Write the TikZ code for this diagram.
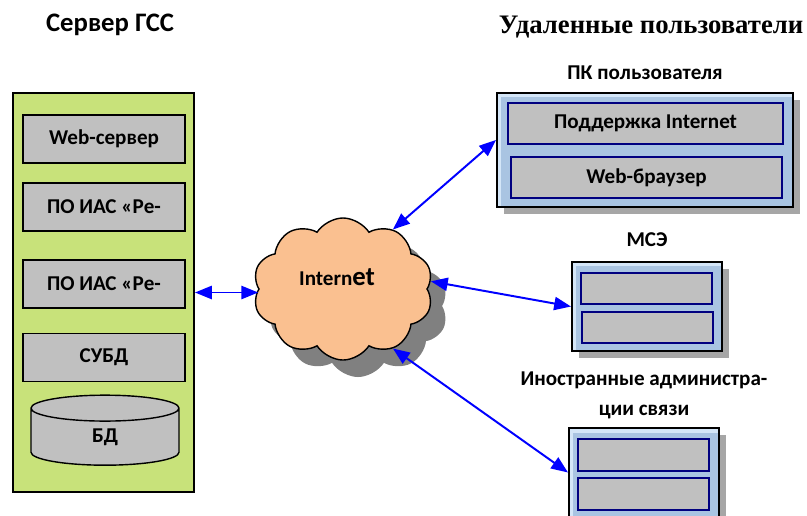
\documentclass[tikz,border=0pt]{standalone}
\usepackage{fontspec}
\setmainfont{Carlito}
\newfontfamily\timesfont{Liberation Serif}
\usetikzlibrary{arrows.meta,positioning,shapes.geometric,shapes.symbols,shadows}
\definecolor{srvgreen}{HTML}{C8E27A}
\definecolor{boxgray}{HTML}{C0C0C0}
\definecolor{pcblue}{HTML}{A9C4E2}
\definecolor{pcband}{HTML}{D4E6F8}
\definecolor{cloudorange}{HTML}{FAC090}
\definecolor{slotnavy}{HTML}{000080}

\begin{document}
\begin{tikzpicture}[x=0.025cm,y=-0.025cm,
    font=\bfseries\fontsize{15}{17}\selectfont,
    mod/.style={draw,line width=1pt,fill=boxgray,minimum width=4.05cm,minimum height=1.2cm,inner sep=0},
    host/.style={draw,line width=1.4pt,fill=pcblue,inner sep=0,
      path picture={\draw[pcband,line width=2.4pt]
        ([xshift=2pt]path picture bounding box.south west) |- ([yshift=-2pt]path picture bounding box.north east);},
      drop shadow={shadow xshift=0.18cm,shadow yshift=-0.18cm,fill=black!35,opacity=1}},
    slot/.style={draw=slotnavy,line width=1.1pt,fill=boxgray,inner sep=0},
    puffs/.style={cloud,cloud puffs=10,cloud puff arc=115,aspect=1.27,minimum width=4.5cm,minimum height=3.55cm,inner sep=0},
    lbl/.style={inner sep=0,font=\bfseries\fontsize{15}{17}\selectfont},
    title/.style={font=\bfseries\fontsize{19}{21}\selectfont},
    link/.style={draw=blue,line width=1.4pt,{Triangle[length=4.2mm,width=3.3mm]}-{Triangle[length=4.2mm,width=3.3mm]}}]
    \clip (0,0) rectangle (807,515);
    % server side
    \node[title] (srvtitle) at (110,25) {Сервер ГСС};
    \node[draw,line width=1.4pt,fill=srvgreen,minimum width=4.525cm,minimum height=9.975cm,inner sep=0] (srv) at (103.5,292.5) {};
    \node[mod] (web) at (104,139) {Web-сервер};
    \node[mod] (ias1) at (104,207) {ПО ИАС «Ре-};
    \node[mod] (ias2) at (104,284) {ПО ИАС «Ре-};
    \node[mod] (dbms) at (104,357.5) {СУБД};
    \node[cylinder,shape border rotate=90,aspect=1.0,draw,line width=1pt,fill=boxgray,minimum width=3.7cm,minimum height=1.75cm,inner sep=0] (db) at (105,437) {БД};
    % network
    \node[puffs,fill=black!50] (cloudsh) at (358,306) {};
    \node[puffs,draw,line width=1pt,fill=cloudorange] (cloud) at (343,289) {};
    \node (inet) at (337,277) {Intern{\fontsize{19}{21}\selectfont et}};
    % remote users
    \node[title,font=\timesfont\bfseries\fontsize{19}{21}\selectfont] (remtitle) at (651,27) {Удаленные пользователи};
    \node[host,minimum width=7.4cm,minimum height=2.85cm] (pc) at (645,150) {};
    \node[slot,minimum width=6.875cm,minimum height=1.025cm] (netsup) at (645.5,123.5) {Поддержка Internet};
    \node[slot,minimum width=6.775cm,minimum height=1.025cm] (browser) at (646.5,177.5) {Web-браузер};
    \node[lbl,above=0.3cm of pc] (pclbl) {ПК пользователя};
    \node[host,minimum width=3.75cm,minimum height=2.225cm] (fw) at (647,306.5) {};
    \node[slot,minimum width=3.275cm,minimum height=0.775cm] (fwa) at (646.5,288.5) {};
    \node[slot,minimum width=3.275cm,minimum height=0.775cm] (fwb) at (647.5,327.5) {};
    \node[lbl,above=0.35cm of fw] (fwlbl) {МСЭ};
    \node[host,minimum width=3.75cm,minimum height=2.225cm] (adm) at (644,472.5) {};
    \node[slot,minimum width=3.275cm,minimum height=0.8cm] (adma) at (643.5,455) {};
    \node[slot,minimum width=3.275cm,minimum height=0.8cm] (admb) at (643.5,494) {};
    \node[lbl,align=center,font=\bfseries\fontsize{15}{21}\selectfont,above=0.2cm of adm] (admlbl) {Иностранные администра-\\ции связи};
    % links
    \draw[link] (srv.east) -- (srv.east -| cloud.west);
    \draw[link] (cloud.50) -- ([yshift=0.25cm]pc.west);
    \draw[link] (cloud.5) -- (fw.west);
    \draw[link] (cloud.-50) -- (adm.west);
\end{tikzpicture}
\end{document}
